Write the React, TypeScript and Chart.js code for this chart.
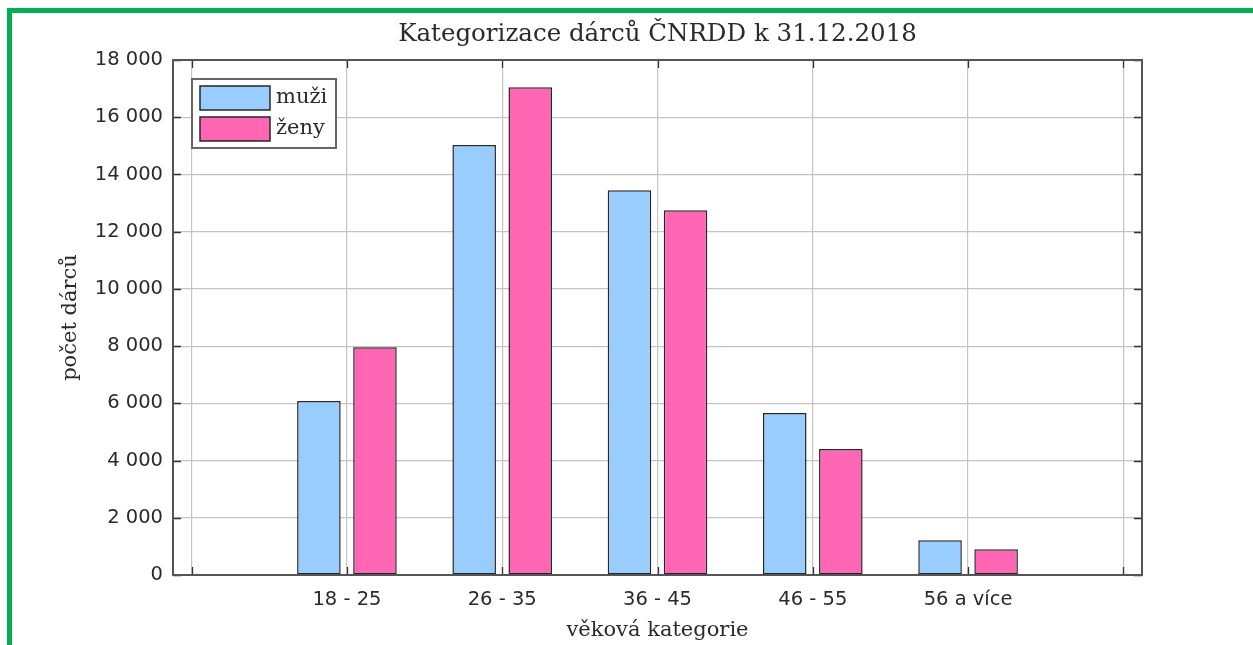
import React, { useEffect, useRef } from 'react';
import { Chart, registerables } from 'chart.js';

Chart.register(...registerables);

// ---- data ----
const categories = ['18 - 25', '26 - 35', '36 - 45', '46 - 55', '56 a více'];
const muzi = [6080, 15030, 13450, 5660, 1215];
const zeny = [7960, 17050, 12750, 4400, 900];
const seriesLabels = ['muži', 'ženy'];
const yTickValues = [0, 2000, 4000, 6000, 8000, 10000, 12000, 14000, 16000, 18000];
const xTickValues = [0, 1, 2, 3, 4, 5, 6];
const titleText = 'Kategorizace dárců ČNRDD k 31.12.2018';
const xTitleText = 'věková kategorie';
const yTitleText = 'počet dárců';

// ---- styles ----
const BLUE = '#99ccff';
const PINK = '#ff66b3';
const BAR_BORDER = '#262626';
const AXIS = '#555555';
const GRID = '#c4c4c4';
const TEXT = '#2a2a2a';
const SERIF = '"DejaVu Serif", serif';
const SANS = '"DejaVu Sans", sans-serif';

const fmt = (v: number) => String(v).replace(/\B(?=(\d{3})+(?!\d))/g, ' ');

const framePlugin = {
  id: 'frameTicks',
  afterDatasetsDraw(chart: any) {
    const { ctx, chartArea } = chart;
    const { left, right, top, bottom } = chartArea;
    const xs = chart.scales.x;
    const ys = chart.scales.y;
    ctx.save();
    ctx.strokeStyle = '#333';
    ctx.lineWidth = 1.3;
    const L = 8;
    ctx.beginPath();
    for (const v of yTickValues) {
      const y = Math.round(ys.getPixelForValue(v)) + 0.5;
      ctx.moveTo(left, y); ctx.lineTo(left + L, y);
      ctx.moveTo(right, y); ctx.lineTo(right - L, y);
    }
    for (const v of xTickValues) {
      const x = Math.round(xs.getPixelForValue(v)) + 0.5;
      ctx.moveTo(x, bottom); ctx.lineTo(x, bottom - L);
      ctx.moveTo(x, top); ctx.lineTo(x, top + L);
    }
    ctx.stroke();
    ctx.strokeStyle = AXIS;
    ctx.lineWidth = 2;
    ctx.strokeRect(left, top, right - left, bottom - top);
    ctx.restore();

    // title centred over the plot area
    ctx.save();
    ctx.font = `24.5px ${SERIF}`;
    ctx.fillStyle = TEXT;
    ctx.textAlign = 'center';
    ctx.textBaseline = 'middle';
    ctx.fillText(titleText, (left + right) / 2, 35);
    ctx.restore();

    // legend box (inside plot, top-left)
    ctx.save();
    const bx = left + 19, by = top + 19, bw = 144, bh = 69;
    ctx.fillStyle = '#fff';
    ctx.fillRect(bx, by, bw, bh);
    ctx.strokeStyle = '#666';
    ctx.lineWidth = 2;
    ctx.strokeRect(bx, by, bw, bh);
    ctx.font = `21px ${SERIF}`;
    ctx.textBaseline = 'middle';
    ctx.textAlign = 'left';
    chart.data.datasets.forEach((ds: any, i: number) => {
      const sy = by + 7 + i * 31;
      ctx.fillStyle = ds.backgroundColor;
      ctx.fillRect(bx + 8, sy, 70, 24);
      ctx.strokeStyle = BAR_BORDER;
      ctx.lineWidth = 1.5;
      ctx.strokeRect(bx + 8, sy, 70, 24);
      ctx.fillStyle = TEXT;
      ctx.fillText(ds.label, bx + 84, sy + 12);
    });
    ctx.restore();
  },
};

export default function App() {
  const ref = useRef<HTMLCanvasElement | null>(null);

  useEffect(() => {
    if (!ref.current) return;
    const chart = new Chart(ref.current, {
      type: 'bar',
      data: {
        datasets: [
          {
            label: seriesLabels[0],
            data: muzi.map((v, i) => ({ x: i + 1, y: v })),
            backgroundColor: BLUE,
            borderColor: BAR_BORDER,
            borderWidth: 1.5,
            borderSkipped: false,
          },
          {
            label: seriesLabels[1],
            data: zeny.map((v, i) => ({ x: i + 1, y: v })),
            backgroundColor: PINK,
            borderColor: BAR_BORDER,
            borderWidth: 1.5,
            borderSkipped: false,
          },
        ],
      },
      options: {
        responsive: false,
        animation: false,
        devicePixelRatio: 1,
        layout: { padding: { left: 0, right: 111, top: 60, bottom: 0 } },
        datasets: { bar: { categoryPercentage: 0.722, barPercentage: 0.777 } },
        plugins: {
          legend: { display: false },
          tooltip: { enabled: false },
          title: { display: false },
        },
        scales: {
          x: {
            type: 'linear',
            min: -0.12,
            max: 6.12,
            offset: false,
            afterBuildTicks: (s: any) => { s.ticks = xTickValues.map((v) => ({ value: v })); },
            afterFit: (s: any) => { s.height = 70; },
            grid: { offset: false, drawTicks: false, color: GRID, lineWidth: 1.2 },
            border: { display: false },
            ticks: {
              autoSkip: false,
              maxRotation: 0,
              padding: 13,
              color: TEXT,
              font: { family: SANS, size: 19.5 },
              callback: (v: any) => categories[Number(v) - 1] ?? '',
            },
            title: {
              display: true,
              text: xTitleText,
              color: TEXT,
              font: { family: SERIF, size: 21 },
              padding: { top: 0, bottom: 2 },
            },
          },
          y: {
            min: 0,
            max: 18000,
            afterBuildTicks: (s: any) => { s.ticks = yTickValues.map((v) => ({ value: v })); },
            afterFit: (s: any) => { s.width = 173; },
            grid: { drawTicks: false, color: GRID, lineWidth: 1.2 },
            border: { display: false },
            ticks: {
              padding: 10,
              color: TEXT,
              font: { family: SANS, size: 19.5 },
              callback: (v: any) => fmt(Number(v)),
            },
            title: {
              display: true,
              text: yTitleText,
              color: TEXT,
              font: { family: SERIF, size: 21 },
              padding: { top: 58, bottom: 0 },
            },
          },
        },
      },
      plugins: [framePlugin],
    } as any);
    return () => chart.destroy();
  }, []);

  return (
    <div style={{ position: 'absolute', left: 0, top: 0, width: 1253, height: 645, overflow: 'hidden', background: '#fff' }}>
      <canvas ref={ref} width={1253} height={645} style={{ display: 'block', position: 'absolute', left: 0, top: 0 }} />
      <div
        style={{
          position: 'absolute',
          left: 7,
          top: 8,
          width: 1400,
          height: 800,
          borderLeft: '5px solid #00b050',
          borderTop: '5px solid #00b050',
          pointerEvents: 'none',
        }}
      />
    </div>
  );
}
